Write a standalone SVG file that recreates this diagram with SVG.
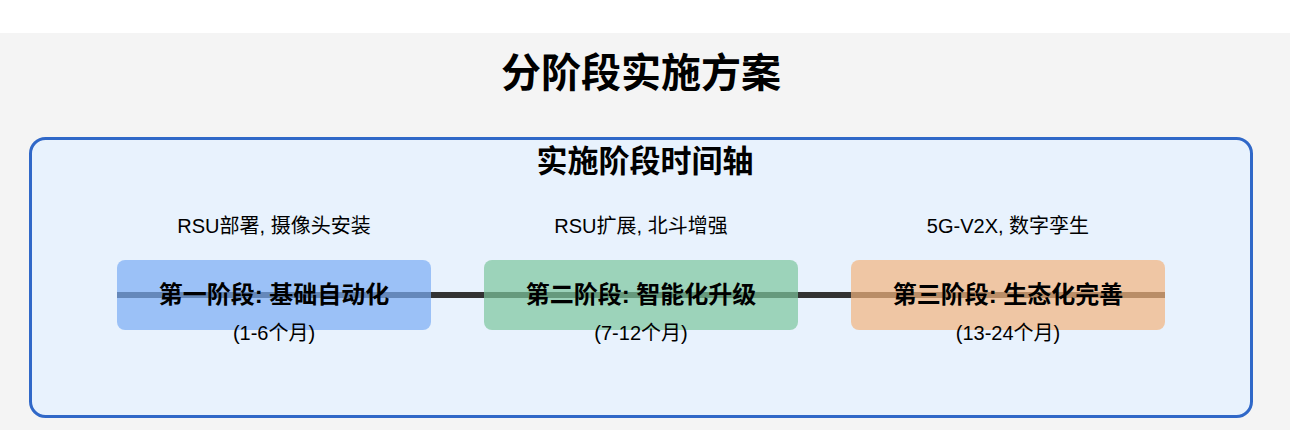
<svg xmlns="http://www.w3.org/2000/svg" width="1290" height="430" viewBox="0 0 1290 430">
<style>
text{font-family:"Liberation Sans","Noto Sans CJK SC",sans-serif;fill:#000;text-anchor:middle}
.h1{font-size:40px;font-weight:bold}
.h2{font-size:31px;font-weight:bold}
.desc{font-size:20px}
.st{font-size:24px;font-weight:bold}
.sub{font-size:20px}
.box{opacity:0.7}
</style>
<rect x="0" y="0" width="1290" height="430" fill="#ffffff"/>
<rect x="0" y="33" width="1290" height="397" fill="#f4f4f4"/>
<text class="h1" x="641" y="87">分阶段实施方案</text>
<g id="timeline-panel">
<rect x="30.5" y="138.5" width="1221" height="278" rx="15" fill="#e8f2fd" stroke="#3068c8" stroke-width="3"/>
<text class="h2" x="645" y="172">实施阶段时间轴</text>
</g>
<g id="connectors">
<line x1="117" y1="295" x2="1165" y2="295" stroke="#333333" stroke-width="6"/>
</g>
<g id="stage1">
<text class="desc" x="274" y="233">RSU部署, 摄像头安装</text>
<rect class="box" x="117" y="260" width="314" height="70" rx="8" fill="#7aacf3"/>
<text class="st" x="274" y="303">第一阶段: 基础自动化</text>
<text class="sub" x="274" y="340">(1-6个月)</text>
</g>
<g id="stage2">
<text class="desc" x="641" y="233">RSU扩展, 北斗增强</text>
<rect class="box" x="484" y="260" width="314" height="70" rx="8" fill="#7cc69d"/>
<text class="st" x="641" y="303">第二阶段: 智能化升级</text>
<text class="sub" x="641" y="340">(7-12个月)</text>
</g>
<g id="stage3">
<text class="desc" x="1008" y="233">5G-V2X, 数字孪生</text>
<rect class="box" x="851" y="260" width="314" height="70" rx="8" fill="#f2b37e"/>
<text class="st" x="1008" y="303">第三阶段: 生态化完善</text>
<text class="sub" x="1008" y="340">(13-24个月)</text>
</g>
</svg>
